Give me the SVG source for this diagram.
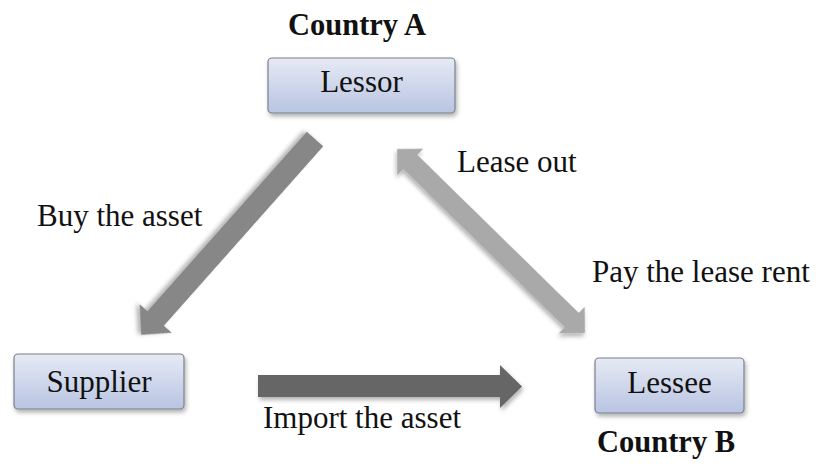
<svg xmlns="http://www.w3.org/2000/svg" width="824" height="466" viewBox="0 0 824 466">
  <defs>
    <linearGradient id="boxFill" x1="0" y1="0" x2="0" y2="1">
      <stop offset="0" stop-color="#e6eaf4"/>
      <stop offset="1" stop-color="#b8c4e2"/>
    </linearGradient>
    <filter id="shadow" x="-20%" y="-20%" width="140%" height="150%">
      <feDropShadow dx="1.5" dy="3" stdDeviation="2" flood-color="#000" flood-opacity="0.3"/>
    </filter>
    <!-- single-headed arrow pointing along +x, tail at origin -->
    <polygon id="arrowBuy" points="0,-11 240,-11 240,-21.5 262,0 240,21.5 240,11 0,11"/>
    <!-- double-headed arrow centred at origin -->
    <polygon id="arrowLease" points="-131.5,0 -113,-18.5 -113,-10 113,-10 113,-18.5 131.5,0 113,18.5 113,10 -113,10 -113,18.5"/>
  </defs>
  <style>
    .box { fill: url(#boxFill); stroke: #7b808c; stroke-width: 1.2; filter: url(#shadow); }
    .label { font-family: "Liberation Serif", "Times New Roman", serif; font-size: 31px; fill: #111; }
    .country { font-family: "Liberation Serif", "Times New Roman", serif; font-size: 30.5px; font-weight: bold; fill: #111; }
    .arrow { filter: url(#shadow); }
  </style>

  <rect width="824" height="466" fill="#ffffff"/>

  <!-- connectors -->
  <g id="connectors">
    <use href="#arrowBuy" class="arrow" fill="#878787" transform="translate(315,139) rotate(131.6)"/>
    <use href="#arrowLease" class="arrow" fill="#a9a9a9" transform="translate(491,241) rotate(44.4)"/>
    <polygon class="arrow" fill="#666666" points="258,375 500,375 500,365 522,386.5 500,408 500,397 258,397"/>
    <text class="label" x="37" y="226">Buy the asset</text>
    <text class="label" x="457" y="172">Lease out</text>
    <text class="label" x="592" y="282">Pay the lease rent</text>
    <text class="label" x="263" y="428">Import the asset</text>
  </g>

  <g id="lessor">
    <rect class="box" x="268" y="58" width="187" height="55" rx="4"/>
    <text class="label" x="361.5" y="92" text-anchor="middle">Lessor</text>
  </g>

  <g id="supplier">
    <rect class="box" x="14" y="354" width="170" height="55" rx="4"/>
    <text class="label" x="99" y="392" text-anchor="middle">Supplier</text>
  </g>

  <g id="lessee">
    <rect class="box" x="595" y="358" width="149" height="55" rx="4"/>
    <text class="label" x="669.5" y="393" text-anchor="middle">Lessee</text>
  </g>

  <g id="country-a">
    <text class="country" x="357" y="35" text-anchor="middle">Country A</text>
  </g>
  <g id="country-b">
    <text class="country" x="597" y="452">Country B</text>
  </g>
</svg>
